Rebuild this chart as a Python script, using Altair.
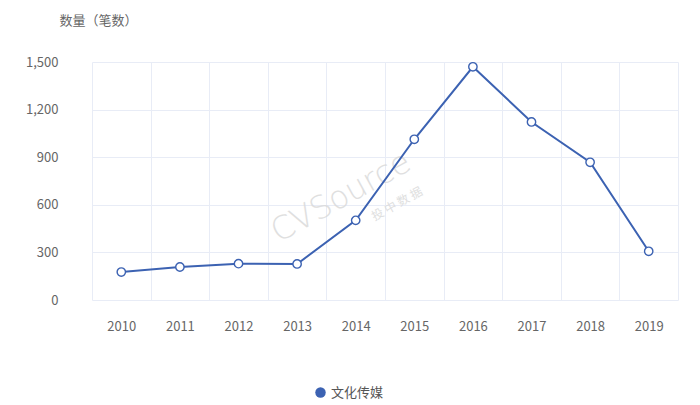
import altair as alt
import pandas as pd

years = ["2010", "2011", "2012", "2013", "2014", "2015", "2016", "2017", "2018", "2019"]
values = [176, 208, 229, 227, 502, 1013, 1470, 1122, 868, 307]
series = ["文化传媒"] * len(years)

df = pd.DataFrame({"year": years, "value": values, "series": series})

FONT = "Noto Sans CJK SC"
BLUE = "#3c62b2"

x = alt.X("year:N", sort=years, scale=alt.Scale(paddingInner=0, paddingOuter=0),
          axis=alt.Axis(title=None, labelAngle=0, ticks=False, domain=False,
                        grid=True, gridColor="#e8ecf6", tickBand="extent",
                        labelPadding=20, labelFontSize=13, labelColor="#666666",
                        labelFont=FONT))
y = alt.Y("value:Q", scale=alt.Scale(domain=[0, 1500], nice=False),
          axis=alt.Axis(title="数量（笔数）", titleAngle=0, titleAlign="center",
                        titleBaseline="middle", titleX=6, titleY=-42,
                        titleFontSize=13, titleFontWeight="normal", titleColor="#666666",
                        titleFont=FONT,
                        values=[0, 300, 600, 900, 1200, 1500], format=",d",
                        ticks=False, domain=False, grid=True, gridColor="#e8ecf6",
                        labelPadding=34, labelFontSize=13, labelColor="#666666",
                        labelFont=FONT))
color = alt.Color("series:N", scale=alt.Scale(range=[BLUE]),
                  legend=alt.Legend(title=None, orient="none", legendX=222, legendY=324,
                                    symbolType="circle", symbolSize=110,
                                    symbolFillColor=BLUE, symbolStrokeWidth=0,
                                    labelFontSize=13, labelColor="#555555", labelFont=FONT))

line = alt.Chart(df).mark_line(strokeWidth=2).encode(x=x, y=y, color=color)
pts = alt.Chart(df).mark_point(filled=True, fill="white", size=70, strokeWidth=1.4, opacity=1).encode(
    x=x, y=y, stroke=alt.Stroke("series:N", scale=alt.Scale(range=[BLUE]), legend=None))

wm1 = alt.Chart(pd.DataFrame({"t": ["CVSource"]})).mark_text(
    angle=331, fontSize=32, font="DejaVu Sans", fontWeight=300, color="#dadada",
    baseline="middle", align="center", opacity=0.85
).encode(text="t:N", x=alt.value(249), y=alt.value(135))
wm2 = alt.Chart(pd.DataFrame({"t": ["投 中 数 据"]})).mark_text(
    angle=331, fontSize=12, font=FONT, color="#dadada",
    baseline="middle", align="center", opacity=0.85
).encode(text="t:N", x=alt.value(305), y=alt.value(142))

chart = alt.layer(wm1, wm2, line, pts).properties(
    width=586, height=238, autosize="none",
    padding={"left": 84, "top": 54, "right": 10, "bottom": 100}
).configure_view(stroke=None)

chart.save("out.html", embed_options={"renderer": "svg", "actions": False})
